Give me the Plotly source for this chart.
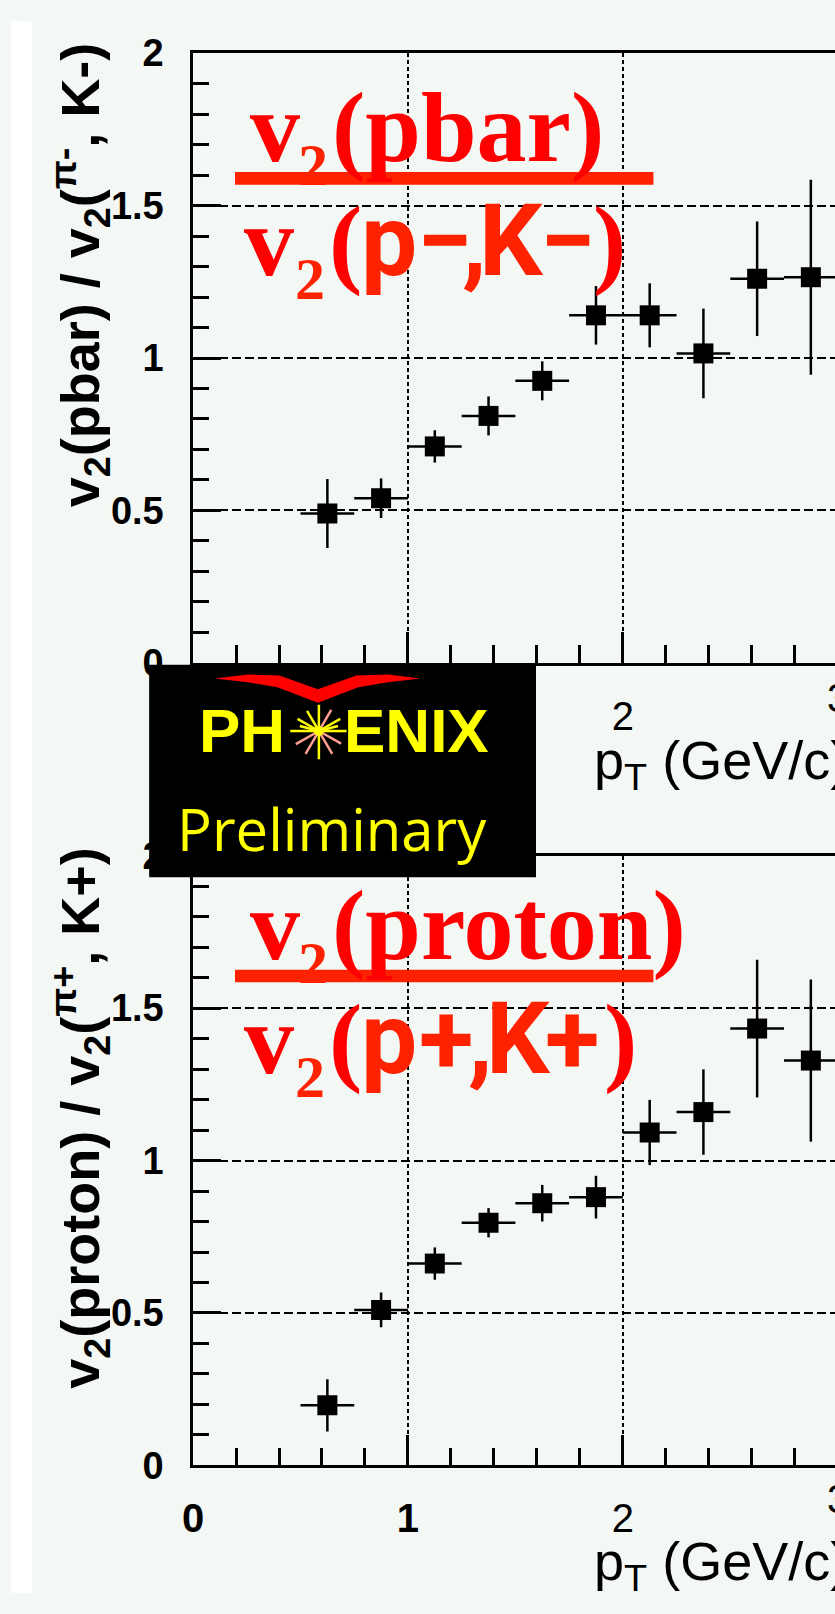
import math
import plotly.graph_objects as go

W, H = 835, 1614

# pT bins (GeV/c): centres and half widths
pt_bins = [0.625, 0.875, 1.125, 1.375, 1.625, 1.875, 2.125, 2.375, 2.625, 2.875]
pt_half_width = [0.125] * 10

# v2(pbar) / v2(pi-, K-)
ratio_neg = [0.49, 0.54, 0.71, 0.81, 0.925, 1.14, 1.14, 1.015, 1.26, 1.265]
ratio_neg_err = [0.113, 0.065, 0.053, 0.064, 0.064, 0.096, 0.105, 0.147, 0.188, 0.32]

# v2(proton) / v2(pi+, K+)
ratio_pos = [0.197, 0.51, 0.662, 0.796, 0.86, 0.88, 1.092, 1.159, 1.433, 1.328]
ratio_pos_err = [0.086, 0.057, 0.053, 0.048, 0.06, 0.07, 0.107, 0.14, 0.226, 0.266]

x_tick_values = [0, 1, 2, 3]
x_tick_text = ["<b>0</b>", "<b>1</b>", "2", "3"]
y_tick_values = [0, 0.5, 1, 1.5, 2]
y_tick_text = ["0", "0.5", "1", "1.5", "2"]

# ---- page geometry (pixels) ----
X0_PX = 184.5          # x = 0
X_UNIT = 217.75        # pixels per GeV/c
X_MAX = (W - X0_PX) / X_UNIT
TOP_Y0, TOP_Y2 = 659, 33
BOT_Y0, BOT_Y2 = 1483, 857

BG = "#f4f8f5"
RED = "#ff0000"
ORANGE = "#ff2200"
YELLOW = "#ffff00"
PINK = "#ff9f8f"
SANS = "Liberation Sans"
SERIF = "Liberation Serif"
XTICK_SIZE = 40


def px(x):
    return x / W


def py(y):
    return 1 - y / H


def x_axis(anchor):
    return dict(
        range=[0, X_MAX], domain=[X0_PX / W, 1], anchor=anchor,
        showline=True, linecolor="black", linewidth=2.5, mirror=True,
        ticks="inside", ticklen=31, tickwidth=2.5, tickcolor="black",
        tickmode="array", tickvals=x_tick_values, ticktext=x_tick_text,
        tickfont=dict(family=SANS, size=XTICK_SIZE, color="black"),
        ticklabelstandoff=16,
        showgrid=True, gridcolor="black", gridwidth=2.2, griddash="4px,3px",
        zeroline=False, fixedrange=True,
        minor=dict(tickmode="linear", tick0=0, dtick=0.2, ticks="inside",
                   ticklen=18, tickwidth=2.5, tickcolor="black", showgrid=False),
    )


def y_axis(anchor, y0_px, y2_px):
    return dict(
        range=[0, 2], domain=[py(y0_px), py(y2_px)], anchor=anchor,
        showline=True, linecolor="black", linewidth=2.5, mirror=False,
        ticks="inside", ticklen=28, tickwidth=2.5, tickcolor="black",
        tickmode="array", tickvals=y_tick_values, ticktext=y_tick_text,
        tickfont=dict(family=SANS, size=38, color="black", weight="bold"),
        ticklabelstandoff=19,
        showgrid=True, gridcolor="black", gridwidth=2.2, griddash="9px,4px",
        zeroline=False, fixedrange=True,
        minor=dict(tickmode="linear", tick0=0, dtick=0.1, ticks="inside",
                   ticklen=16, tickwidth=2.5, tickcolor="black", showgrid=False),
    )


def points(y, err, xa, ya):
    return go.Scatter(
        x=pt_bins, y=y, xaxis=xa, yaxis=ya, mode="markers",
        marker=dict(symbol="square", size=20, color="black", line=dict(width=0)),
        error_y=dict(type="data", array=err, color="black", thickness=2.5, width=0),
        error_x=dict(type="data", array=pt_half_width, color="black", thickness=2.5, width=0),
        showlegend=False, hoverinfo="skip",
    )


fig = go.Figure()
fig.add_trace(points(ratio_neg, ratio_neg_err, "x", "y"))
fig.add_trace(points(ratio_pos, ratio_pos_err, "x2", "y2"))

annotations = []


def text(s, x, y, size, color, family=SANS, weight="normal", xanchor="left",
         angle=0):
    annotations.append(dict(
        text=s, x=px(x), y=py(y), xref="paper", yref="paper",
        xanchor=xanchor, yanchor="middle", showarrow=False, textangle=angle,
        borderpad=0, borderwidth=0,
        font=dict(family=family, size=size, color=color, weight=weight),
    ))


# centre of a text line from its baseline
def mid(baseline, size, k):
    return baseline - k * size


TIMES_K, ARIAL_K, ROBOTO_K, OPEN_K = 0.3375, 0.3465, 0.342, 0.388

# ---- axis titles ----
text("v<sub>2</sub>(pbar) / v<sub>2</sub>(<sup>π-</sup>, K-)", 70, 261, 54, "black",
     weight="bold", xanchor="center", angle=-90)
text("v<sub>2</sub>(proton) / v<sub>2</sub>(<sup>π+</sup>, K+)", 70, 1126, 54, "black",
     weight="bold", xanchor="center", angle=-90)
text("p<sub>T</sub> (GeV/c)", 591, 763, 54, "black")
text("p<sub>T</sub> (GeV/c)", 591, 1585, 54, "black")
# the "3" labels sit right at the page edge
text("3", 838, 695, XTICK_SIZE, "black", xanchor="center")
text("3", 838, 1517, XTICK_SIZE, "black", xanchor="center")


# ---- ratio formulas ----
def formula(dy, numer, signs, x_pos):
    b1, b2 = 143 + dy, 260 + dy
    s1, s2 = 168 + dy, 285 + dy
    text("v", 242, mid(b1, 100, TIMES_K), 100, RED, SERIF, "bold")
    text("2", 291, mid(s1, 60, TIMES_K), 60, ORANGE, SERIF, "bold")
    text(numer, 325, mid(b1, 100, TIMES_K), 100, RED, SERIF, "bold")
    text("v", 236, mid(b2, 100, TIMES_K), 100, RED, SERIF, "bold")
    text("2", 288, mid(s2, 60, TIMES_K), 60, ORANGE, SERIF, "bold")
    text("(", 322, mid(b2, 100, TIMES_K), 100, RED, SERIF, "bold")
    for ch, xx in zip(["p", signs, ",", "K", signs], x_pos[:5]):
        text(ch, xx, mid(b2, 100, ROBOTO_K), 100, ORANGE, "Roboto", "bold")
    text(")", x_pos[5], mid(b2, 100, TIMES_K), 100, RED, SERIF, "bold")


formula(0, "(pbar)", "−", [355, 411, 457, 474, 536, 590])
formula(819, "(proton)", "+", [355, 413, 463, 481, 541, 601])

# ---- PHENIX Preliminary badge ----
text("PH", 190.5, mid(750, 62, ARIAL_K), 62, YELLOW, SANS, "bold")
text("ENIX", 337.5, mid(750, 62, ARIAL_K), 62, YELLOW, SANS, "bold")
text("Preliminary", 168, mid(852, 58, OPEN_K), 58, YELLOW, "Open Sans")

shapes = [
    dict(type="rect", xref="paper", yref="paper", x0=0, x1=px(21), y0=0, y1=1,
         fillcolor="white", line=dict(width=0), layer="below"),
    dict(type="rect", xref="paper", yref="paper", x0=px(140), x1=px(532),
         y0=py(879), y1=py(661), fillcolor="black", line=dict(width=0), layer="above"),
]

# fraction bars
for dy in (0, 819):
    shapes.append(dict(type="rect", xref="paper", yref="paper", x0=px(227), x1=px(651),
                       y0=py(168 + dy), y1=py(155 + dy), fillcolor=ORANGE,
                       line=dict(width=0), layer="above"))

# red wings of the logo
wing = [(206, 675), (240, 671), (272, 672), (311, 686), (350, 672), (382, 671),
        (415, 675), (382, 679), (352, 684), (311, 700), (270, 684), (240, 679)]
wing_path = "M " + " L ".join(f"{px(a):.5f},{py(b):.5f}" for a, b in wing) + " Z"
shapes.append(dict(type="path", xref="paper", yref="paper", path=wing_path,
                   fillcolor=RED, line=dict(width=0), layer="above"))

# starburst in place of the "O"
cx, cy = 312, 729
rays = [(90, 27, YELLOW), (270, 29, YELLOW), (0, 28, YELLOW), (180, 29, YELLOW),
        (30, 25, YELLOW), (150, 25, YELLOW), (60, 25, PINK), (120, 24, YELLOW),
        (210, 27, PINK), (240, 27, PINK), (300, 27, PINK),
        (330, 26, PINK), (15, 20, YELLOW), (165, 20, YELLOW)]
for ang, ln, col in rays:
    a = math.radians(ang)
    shapes.append(dict(type="line", xref="paper", yref="paper",
                       x0=px(cx), y0=py(cy), x1=px(cx + ln * math.cos(a)),
                       y1=py(cy - ln * math.sin(a)),
                       line=dict(color=col, width=2.5), layer="above"))
shapes.append(dict(type="circle", xref="paper", yref="paper",
                   x0=px(cx - 5), x1=px(cx + 5), y0=py(cy + 5), y1=py(cy - 5),
                   fillcolor=YELLOW, line=dict(width=0), layer="above"))

fig.update_layout(
    width=W, height=H, margin=dict(l=0, r=0, t=0, b=0, pad=0),
    paper_bgcolor=BG, plot_bgcolor=BG,
    xaxis=x_axis("y"), yaxis=y_axis("x", TOP_Y0, TOP_Y2),
    xaxis2=x_axis("y2"), yaxis2=y_axis("x2", BOT_Y0, BOT_Y2),
    annotations=annotations, shapes=shapes, showlegend=False,
)

# keep the figure flush with the page corner
page_css = ("document.body.style.margin='0';document.body.style.padding='0';"
            "document.documentElement.style.overflow='hidden';")
fig.write_html("out.html", config={"displayModeBar": False}, post_script=page_css)
